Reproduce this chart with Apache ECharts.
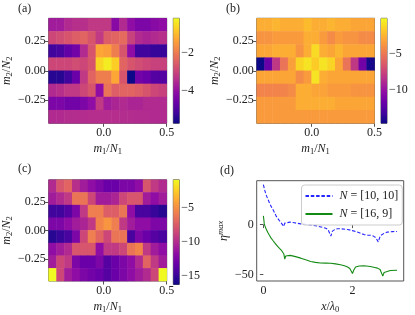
<!DOCTYPE html>
<html><head><meta charset="utf-8">
<script src="https://cdn.jsdelivr.net/npm/echarts@6/dist/echarts.min.js"></script>
<style>html,body{margin:0;padding:0;background:#fff}#c{width:415px;height:315px}</style>
</head><body><div id="c"></div>
<script>
// ---------- data ----------
const N1 = 16, N2 = 9;
const m1 = [-7,-6,-5,-4,-3,-2,-1,0,1,2,3,4,5,6,7];   // cell lower edges (x)
const m2 = [-4,-3,-2,-1,0,1,2,3];                    // cell lower edges (y), bottom->top

// rows listed top -> bottom, 15 columns left -> right
const aRows = [
 [-3.75,-3.75,-3.48,-3.37,-3.37,-3.2,-3.2,-3.2,-4.14,-3.48,-4.03,-4.3,-4.3,-4.14,-4.03],
 [-2.93,-2.82,-2.66,-2.49,-2.38,-2.66,-3.2,-2.49,-2.38,-2.27,-3.04,-3.48,-3.59,-3.48,-3.37],
 [-5.12,-5.01,-4.68,-4.46,-3.48,-2.66,-1.29,-1.4,-1.94,-2.66,-4.03,-5.12,-5.12,-5.23,-5.23],
 [-2.93,-2.93,-2.93,-2.82,-2.93,-2.66,-0.63,-0.36,-0.74,-2.38,-2.66,-2.82,-2.93,-3.04,-3.04],
 [-5.4,-5.4,-5.12,-4.57,-3.2,-2.38,-1.94,-1.94,-1.29,-2.66,-5.67,-4.46,-4.57,-4.85,-4.85],
 [-3.48,-3.37,-3.2,-3.2,-2.93,-2.66,-4.03,-2.11,-2.49,-2.38,-2.38,-2.49,-2.66,-2.93,-3.04],
 [-4.3,-4.3,-4.46,-4.46,-4.3,-4.03,-3.2,-3.75,-3.59,-3.48,-3.59,-3.59,-3.48,-3.48,-3.48],
 [-3.48,-3.48,-3.43,-3.43,-3.43,-3.4,-3.4,-3.4,-3.4,-3.43,-3.43,-3.45,-3.45,-3.48,-3.48]
];
const bRows = [
 [-2.8,-2.8,-2.5,-2.8,-2.8,-2.8,-2.3,-2.8,-2.8,-2.5,-2.8,-2.8,-3.1,-3.1,-3.1],
 [-3.8,-3.8,-3.5,-3.5,-3.5,-3.5,-2.8,-2.8,-3.5,-4.2,-3.5,-3.8,-3.8,-4.2,-4.2],
 [-3.1,-3.1,-2.8,-2.8,-2.8,-3.8,-2.8,-1.2,-2.8,-3.1,-2.5,-3.1,-3.1,-3.1,-3.1],
 [-14.6,-11.71,-8.1,-5.21,-3.3,-1.4,-0.9,-1.7,-0.9,-1.4,-3.1,-5.21,-8.1,-11.42,-14.31],
 [-3.1,-3.1,-3.1,-3.1,-3.1,-4.2,-3.5,-0.9,-2.8,-3.1,-3.1,-3.1,-3.1,-3.1,-3.1],
 [-4.5,-4.5,-4.5,-4.5,-4.2,-2.8,-2.8,-3.1,-3.2,-3.5,-3.5,-3.5,-3.8,-3.8,-3.8],
 [-3.5,-3.5,-3.5,-3.5,-3.5,-2.8,-2.8,-2.8,-2.8,-2.8,-3.1,-3.1,-3.1,-3.1,-3.1],
 [-3.5,-3.5,-3.5,-3.5,-3.5,-3.5,-3.5,-3.5,-3.5,-3.5,-3.5,-3.5,-3.5,-3.5,-3.5]
];
const cRows = [
 [-10.14,-7.83,-7.06,-9.83,-10.91,-11.68,-12.45,-13.22,-13.22,-12.45,-12.45,-11.68,-7.83,-9.37,-10.14],
 [-10.91,-10.14,-9.37,-6.29,-6.29,-8.6,-10.91,-10.91,-10.45,-8.6,-7.83,-7.83,-10.91,-11.68,-10.91],
 [-14.76,-14.76,-13.99,-12.45,-9.37,-5.83,-5.83,-7.37,-7.37,-6.29,-11.68,-14.45,-14.45,-15.07,-15.53],
 [-12.45,-12.45,-11.68,-10.91,-10.45,-9.37,-5.52,-4.75,-5.83,-9.37,-10.91,-11.68,-11.68,-12.45,-12.45],
 [-15.53,-15.07,-14.45,-12.45,-8.6,-5.83,-7.06,-8.6,-6.29,-6.29,-14.45,-12.45,-13.22,-13.99,-14.45],
 [-11.68,-10.91,-10.14,-7.83,-7.83,-7.83,-11.68,-9.37,-9.37,-8.6,-6.29,-5.52,-9.37,-10.91,-11.68],
 [-10.91,-8.6,-9.37,-12.45,-13.22,-13.22,-12.45,-13.99,-13.22,-12.45,-11.68,-10.14,-7.06,-9.37,-10.91],
 [-0.9,-8.6,-10.91,-11.68,-12.45,-12.91,-13.22,-13.99,-13.22,-12.45,-11.68,-10.91,-10.14,-8.6,-0.9]
];
const aRange = [-5.67, -0.19];
const bRange = [-14.6, -0.15];
const cRange = [-16.3, -0.9];
const aCbTicks = [-4, -2];
const bCbTicks = [-10, -5];
const cCbTicks = [-15, -10, -5];
const heatXTicks = [0, 0.5];
const heatYTicks = [-0.25, 0, 0.25];

// panel (d)
const xB = [0,0.03,0.06,0.1,0.135,0.17,0.21,0.25,0.284,0.32,0.36,0.4,0.43,0.456,0.48,0.51,0.6,0.7,0.84,1.0,1.1,1.22,1.32,1.4,1.45,1.48,1.515,1.55,1.6,1.66,1.75,1.89,2.0,2.11,2.2,2.26,2.34,2.41,2.47,2.52,2.56,2.58,2.61,2.64,2.7,2.78,2.9,3.0];
const yB = [40,34.5,30,25.5,22,18.5,15.4,12,8.8,6.3,4,1.8,0,-1.8,1.5,3,2.5,1.8,0.7,0,-0.5,-1.6,-2.6,-3.6,-4.8,-6.5,-11.4,-6.5,-5,-4.2,-4.2,-4.9,-6,-7.5,-9,-10,-10.5,-10.7,-11.5,-13,-15,-17.3,-13,-10.7,-9,-7.5,-7,-6.9];
const xG = [0,0.01,0.02,0.04,0.06,0.1,0.135,0.17,0.21,0.25,0.284,0.32,0.36,0.4,0.43,0.46,0.48,0.5,0.53,0.6,0.7,0.84,0.95,1.06,1.17,1.28,1.4,1.51,1.62,1.73,1.82,1.89,1.94,1.97,2.0,2.03,2.07,2.15,2.26,2.4,2.5,2.56,2.62,2.65,2.68,2.71,2.75,2.85,3.0];
const yG = [8.8,5,0.7,-2,-4.2,-8,-10.7,-13.3,-15.7,-18,-19.9,-21.9,-23.8,-25.5,-27.1,-29.5,-34.6,-31.5,-30.4,-30.8,-31.8,-33.6,-35.3,-36.9,-37.8,-38.5,-38.6,-38.7,-39.3,-40.2,-41.3,-42.5,-44,-45.5,-49,-45.5,-42.5,-41.5,-41.2,-42,-43,-43.6,-45,-47,-51.6,-48,-46.5,-46,-45.8];
const dXTicks = [0, 2];
const dYTicks = [-50, 0];
const legendNames = ['N = [10, 10]', 'N = [16, 9]'];

// ---------- styling ----------
const F = "'Liberation Serif','DejaVu Serif',serif";
const FS = 12;
const TXT = '#222';
const FRAME = '#555';
const plasma = ['#0d0887','#41049d','#6a00a8','#8f0da4','#b12a90','#cc4778','#e16462','#f2844b','#fca636','#fcce25','#f0f921'];
const mfmt = s => String(s).replace('-', '\u2212');

const rich = {
  i: {fontFamily: F, fontStyle: 'italic', fontSize: FS, color: TXT, lineHeight: 14},
  r: {fontFamily: F, fontSize: FS, color: TXT, lineHeight: 14},
  s: {fontFamily: F, fontSize: 8.5, color: TXT, lineHeight: 9, verticalAlign: 'bottom'},
  si: {fontFamily: F, fontStyle: 'italic', fontSize: 8.5, color: TXT, lineHeight: 9, verticalAlign: 'top'}
};

function heatData(rows) {
  const out = [];
  rows.forEach((row, r) => {
    const yi = rows.length - 1 - r;
    row.forEach((v, xi) => out.push([xi, yi, v]));
  });
  return out;
}

const panels = [
  {rows: aRows, range: aRange, cbt: aCbTicks, g: {left: 48.3, top: 18.3, width: 118.4, height: 105}, cb: {left: 173.3, top: 18.3, width: 6, height: 105}},
  {rows: bRows, range: bRange, cbt: bCbTicks, g: {left: 256.7, top: 18.3, width: 117.8, height: 105}, cb: {left: 381, top: 18.3, width: 6, height: 105}},
  {rows: cRows, range: cRange, cbt: cCbTicks, g: {left: 48.3, top: 179.8, width: 118.4, height: 104.7}, cb: {left: 173.3, top: 179.8, width: 6, height: 104.7}}
];

const grid = [], xAxis = [], yAxis = [], series = [], visualMap = [];
const xMin = m1[0] / N1, xMax = (m1[m1.length - 1] + 1) / N1;
const yMin = m2[0] / N2, yMax = (m2[m2.length - 1] + 1) / N2;

panels.forEach((p, k) => {
  grid.push(Object.assign({show: true, borderColor: FRAME, borderWidth: 1, backgroundColor: 'transparent'}, p.g));
  grid.push(Object.assign({show: true, borderColor: FRAME, borderWidth: 1, backgroundColor: 'transparent'}, p.cb));
  const gi = 2 * k, ci = 2 * k + 1;
  const xc = xAxis.length;
  xAxis.push({type: 'category', gridIndex: gi, data: m1.map(String), show: false});
  xAxis.push({type: 'value', gridIndex: gi, min: xMin, max: xMax, position: 'bottom',
    axisLine: {show: false}, splitLine: {show: false},
    axisTick: {show: true, length: 3.5, inside: false, customValues: heatXTicks, lineStyle: {color: FRAME}},
    axisLabel: {customValues: heatXTicks, formatter: v => mfmt(v.toFixed(1)), fontFamily: F, fontSize: FS, color: TXT, margin: 4},
    name: '{i|m}{s|1}{r|/}{i|N}{s|1}', nameLocation: 'middle', nameGap: 19,
    nameTextStyle: {rich: rich}
  });
  xAxis.push({type: 'value', gridIndex: ci, min: 0, max: 1, show: false});
  const yc = yAxis.length;
  yAxis.push({type: 'category', gridIndex: gi, data: m2.map(String), show: false});
  yAxis.push({type: 'value', gridIndex: gi, min: yMin, max: yMax, position: 'left',
    axisLine: {show: false}, splitLine: {show: false},
    axisTick: {show: true, length: 3.5, inside: false, customValues: heatYTicks, lineStyle: {color: FRAME}},
    axisLabel: {customValues: heatYTicks, formatter: v => mfmt(v.toFixed(2)), fontFamily: F, fontSize: FS, color: TXT, margin: 3},
    name: '{i|m}{s|2}{r|/}{i|N}{s|2}', nameLocation: 'middle', nameGap: 30, nameRotate: 90,
    nameTextStyle: {rich: rich}
  });
  yAxis.push({type: 'value', gridIndex: ci, min: p.range[0], max: p.range[1], position: 'right',
    axisLine: {show: false}, splitLine: {show: false},
    axisTick: {show: true, length: 3.5, inside: false, customValues: p.cbt, lineStyle: {color: FRAME}},
    axisLabel: {customValues: p.cbt, formatter: v => mfmt(v), fontFamily: F, fontSize: FS, color: TXT, margin: 2}
  });
  const si = series.length;
  series.push({type: 'heatmap', xAxisIndex: xc, yAxisIndex: yc, data: heatData(p.rows),
    itemStyle: {borderWidth: 0}, emphasis: {disabled: true}, progressive: 0});
  visualMap.push({type: 'continuous', show: false, seriesIndex: si, dimension: 2,
    min: p.range[0], max: p.range[1], inRange: {color: plasma}});
  series.push({type: 'custom', xAxisIndex: xc + 2, yAxisIndex: yc + 2, clip: false, silent: true,
    data: [[0, p.range[0], p.range[1]]],
    renderItem: function (params, api) {
      const tl = api.coord([0, api.value(2)]);
      const br = api.coord([1, api.value(1)]);
      const stops = plasma.slice().reverse().map((c, i) => ({offset: i / (plasma.length - 1), color: c}));
      return {type: 'rect', shape: {x: tl[0], y: tl[1], width: br[0] - tl[0], height: br[1] - tl[1]},
        style: {fill: new echarts.graphic.LinearGradient(0, 0, 0, 1, stops)}};
    }
  });
});

// panel (d)
grid.push({show: true, borderColor: FRAME, borderWidth: 1, backgroundColor: 'transparent', left: 256.7, top: 180.7, width: 147, height: 103.3});
const dx = xAxis.length, dy = yAxis.length;
xAxis.push({type: 'value', gridIndex: 6, min: -0.15, max: 3.15,
  axisLine: {show: false}, splitLine: {show: false},
  axisTick: {show: true, length: 3.5, customValues: dXTicks, lineStyle: {color: FRAME}},
  axisLabel: {customValues: dXTicks, formatter: v => mfmt(v), fontFamily: F, fontSize: FS, color: TXT, margin: 4},
  name: '{i|x}{r|/}{i|λ}{s|0}', nameLocation: 'middle', nameGap: 19, nameTextStyle: {rich: rich}
});
yAxis.push({type: 'value', gridIndex: 6, min: -56.5, max: 44,
  axisLine: {show: false}, splitLine: {show: false},
  axisTick: {show: true, length: 3.5, customValues: dYTicks, lineStyle: {color: FRAME}},
  axisLabel: {customValues: dYTicks, formatter: v => mfmt(v), fontFamily: F, fontSize: FS, color: TXT, margin: 3},
  name: '{i|η}{si|max}', nameLocation: 'middle', nameGap: 26, nameRotate: 90, nameTextStyle: {rich: rich}
});
series.push({type: 'line', name: legendNames[0], xAxisIndex: dx, yAxisIndex: dy, data: xB.map((x, i) => [x, yB[i]]),
  symbol: 'none', showSymbol: false, smooth: false, lineStyle: {color: '#2626ff', width: 1.1, type: [3.5, 1.8]}, itemStyle: {color: '#2626ff'}});
series.push({type: 'line', name: legendNames[1], xAxisIndex: dx, yAxisIndex: dy, data: xG.map((x, i) => [x, yG[i]]),
  symbol: 'none', showSymbol: false, smooth: false, lineStyle: {color: '#138a13', width: 1.1}, itemStyle: {color: '#138a13'}});

const letters = [['(a)', 18, 3], ['(b)', 226, 3], ['(c)', 18, 163], ['(d)', 220, 165]];

const option = {
  animation: false,
  backgroundColor: '#fff',
  grid, xAxis, yAxis, series, visualMap,
  legend: {
    data: legendNames, orient: 'vertical', left: 301.5, top: 185,
    itemWidth: 27, itemHeight: 10, itemGap: 6, padding: [5, 4, 5, 3],
    backgroundColor: 'rgba(255,255,255,0.8)', borderColor: '#cccccc', borderWidth: 1, borderRadius: 3,
    selectedMode: false,
    itemStyle: {opacity: 0, borderWidth: 0},
    formatter: n => '{i|N}{r| = ' + n.slice(4) + '}',
    textStyle: {rich: rich, padding: [0, 0, 0, 2]}
  },
  graphic: letters.map(l => ({type: 'text', left: l[1], top: l[2],
    style: {text: l[0], font: FS + 'px ' + F, fill: TXT}}))
};

const chart = echarts.init(document.getElementById('c'), null, {renderer: 'canvas'});
chart.setOption(option);
</script>
</body></html>
